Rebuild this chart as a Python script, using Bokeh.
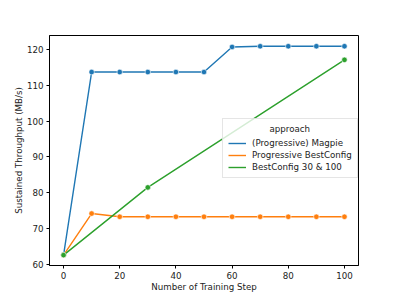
from bokeh.plotting import figure
from bokeh.models import Legend, LegendItem, Range1d, FixedTicker
from bokeh.embed import file_html
from bokeh.resources import INLINE

steps = [0, 10, 20, 30, 40, 50, 60, 70, 80, 90, 100]
magpie = [62.6, 113.7, 113.7, 113.7, 113.7, 113.7, 120.7, 120.9, 120.9, 120.9, 120.9]
prog_best = [62.6, 74.2, 73.3, 73.3, 73.3, 73.3, 73.3, 73.3, 73.3, 73.3, 73.3]
best_steps = [0, 30, 100]
best_vals = [62.6, 81.5, 117.1]

series_names = ["(Progressive) Magpie", "Progressive BestConfig", "BestConfig 30 & 100"]
legend_title = "approach"
colors = ["#1f77b4", "#ff7f0e", "#2ca02c"]

FONT = "DejaVu Sans"
FS = "8.7px"

p = figure(frame_width=309, frame_height=230, output_backend="svg", toolbar_location=None,
           x_range=Range1d(-5, 105), y_range=Range1d(59.7, 123.9),
           min_border_left=49, min_border_top=35, min_border_right=24, min_border_bottom=26)
p.background_fill_color = "white"
p.border_fill_color = "white"
p.outline_line_color = "black"
p.outline_line_width = 1
p.grid.visible = False

data = [(steps, magpie), (steps, prog_best), (best_steps, best_vals)]
line_renderers = []
for (xs, ys), c in zip(data, colors):
    r = p.line(xs, ys, line_color=c, line_width=1.4)
    p.scatter(xs, ys, size=5.5, fill_color=c, line_color="white", line_width=0.6)
    line_renderers.append(r)

for ax in (p.xaxis[0], p.yaxis[0]):
    ax.axis_line_color = "black"
    ax.major_tick_out = 3
    ax.major_tick_in = 0
    ax.minor_tick_out = 0
    ax.minor_tick_in = 0
    ax.major_label_standoff = 3
    ax.major_label_text_font = FONT
    ax.major_label_text_font_size = FS
    ax.major_label_text_color = "#222222"
    ax.axis_label_text_font = FONT
    ax.axis_label_text_font_size = FS
    ax.axis_label_text_font_style = "normal"
    ax.axis_label_text_color = "#222222"
    ax.axis_label_standoff = 0

p.xaxis[0].ticker = FixedTicker(ticks=[0, 20, 40, 60, 80, 100])
p.yaxis[0].ticker = FixedTicker(ticks=[60, 70, 80, 90, 100, 110, 120])
p.xaxis[0].axis_label = "Number of Training Step"
p.yaxis[0].axis_label = "Sustained Throughput (MB/s)"

items = [LegendItem(label=n, renderers=[r]) for n, r in zip(series_names, line_renderers)]
legend = Legend(items=items, location=(173, 87), title="\u00a0" * 15 + legend_title,
                title_text_font=FONT, title_text_font_size=FS, title_standoff=4,
                title_text_font_style="normal", title_text_color="#222222",
                label_text_font=FONT, label_text_font_size=FS, label_text_color="#222222",
                label_height=10, label_standoff=6, glyph_width=18, glyph_height=10,
                spacing=2, padding=5, margin=0,
                border_line_color="#cccccc", border_line_width=1,
                background_fill_color="white", background_fill_alpha=0.8)
p.add_layout(legend, "center")

open("out.html", "w").write(file_html(p, INLINE))
